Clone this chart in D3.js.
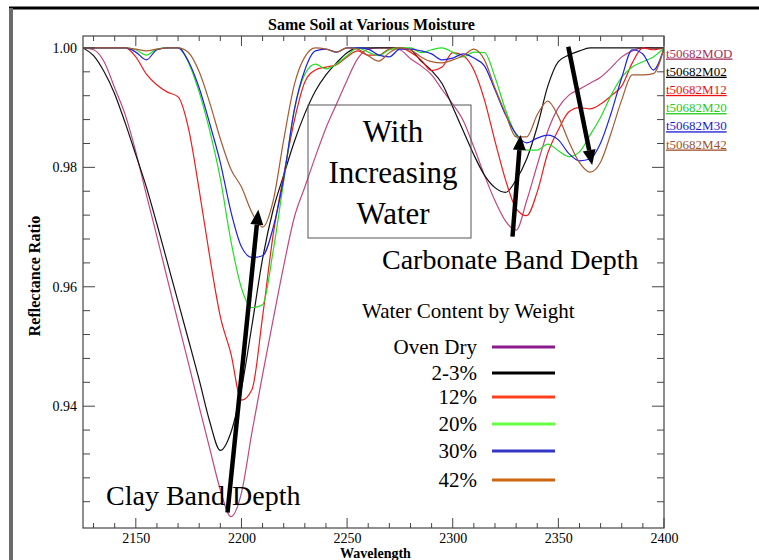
<!DOCTYPE html>
<html><head><meta charset="utf-8">
<script src="https://cdn.jsdelivr.net/npm/d3@7"></script>
<style>
body{margin:0;background:#fff;}
svg{display:block;}
text{font-family:"Liberation Serif","Times New Roman",serif;fill:#000;}
</style>
</head><body><div id="chart"></div>
<script>
// ---------- data ----------
const wavelengths = [2125,2130,2135,2140,2145,2150,2155,2160,2165,2170,
  2175,2180,2185,2190,2195,2200,2205,2210,2215,2220,
  2225,2230,2235,2240,2245,2250,2255,2260,2265,2270,
  2275,2280,2285,2290,2295,2300,2305,2310,2315,2320,
  2325,2330,2335,2340,2345,2350,2355,2360,2365,2370,
  2375,2380,2385,2390,2395,2400];

const seriesNames = ["t50682MOD","t50682M02","t50682M12","t50682M20","t50682M30","t50682M42"];
const legendLabels = ["Oven Dry","2-3%","12%","20%","30%","42%"];

const valuesMOD = [1.0,0.9997,0.9977,0.9933,0.9888,0.9826,0.9754,0.9684,0.9612,0.9541,
  0.9471,0.9399,0.9329,0.9260,0.9215,0.9255,0.9357,0.9453,0.9545,0.9635,
  0.9716,0.9767,0.9818,0.9866,0.9906,0.9946,0.9982,0.9998,1.0,1.0,
  0.9997,0.9982,0.9970,0.9955,0.9930,0.9906,0.9878,0.9834,0.9787,0.9744,
  0.9710,0.9695,0.9744,0.9804,0.9861,0.9900,0.9921,0.9931,0.9941,0.9951,
  0.9967,0.9985,0.9995,1.0,1.0,1.0];

const valuesM02 = [1.0,0.9987,0.9960,0.9923,0.9874,0.9821,0.9767,0.9705,0.9640,0.9575,
  0.9510,0.9444,0.9374,0.9326,0.9356,0.9429,0.9536,0.9647,0.9729,0.9787,
  0.9843,0.9890,0.9928,0.9955,0.9975,0.9992,1.0,1.0,1.0,1.0,
  1.0,0.9997,0.9978,0.9962,0.9940,0.9901,0.9861,0.9821,0.9787,0.9766,
  0.9758,0.9779,0.9814,0.9868,0.9936,0.9977,0.9988,0.9995,1.0,1.0,
  1.0,1.0,1.0,1.0,1.0,1.0];

const valuesM12 = [1.0,1.0,1.0,1.0,1.0,0.9985,0.9956,0.9938,0.9926,0.9918,
  0.9864,0.9762,0.9650,0.9550,0.9488,0.9410,0.9428,0.9550,0.9687,0.9787,
  0.9878,0.9943,0.9963,0.9968,0.9972,0.9985,0.9995,0.9988,0.9988,0.9998,
  1.0,0.9993,0.9980,0.9962,0.9968,0.9992,0.9987,0.9963,0.9913,0.9844,
  0.9779,0.9731,0.9719,0.9759,0.9824,0.9863,0.9893,0.9900,0.9898,0.9906,
  0.9920,0.9936,0.9975,1.0,0.9997,1.0];

const valuesM20 = [1.0,1.0,1.0,1.0,1.0,0.9997,0.9988,0.9998,1.0,1.0,
  0.9975,0.9926,0.9861,0.9781,0.9677,0.9598,0.9565,0.9570,0.9660,0.9777,
  0.9896,0.9956,0.9973,0.9965,0.9973,0.9987,1.0,0.9993,0.9987,0.9997,
  1.0,1.0,0.9992,0.9997,1.0,0.9993,0.9985,0.9993,0.9992,0.9951,
  0.9896,0.9854,0.9829,0.9829,0.9839,0.9828,0.9818,0.9826,0.9854,0.9884,
  0.9921,0.9951,0.9968,0.9977,0.9985,1.0];

const valuesM30 = [1.0,1.0,1.0,1.0,1.0,0.9993,0.9980,0.9997,1.0,1.0,
  0.9977,0.9933,0.9873,0.9808,0.9726,0.9667,0.9649,0.9652,0.9699,0.9782,
  0.9896,0.9963,0.9995,0.9998,0.9993,1.0,1.0,0.9998,0.9988,0.9985,
  0.9998,0.9998,0.9995,0.9990,0.9980,0.9983,0.9990,0.9983,0.9970,0.9930,
  0.9888,0.9856,0.9841,0.9849,0.9854,0.9846,0.9823,0.9811,0.9814,0.9841,
  0.9891,0.9950,0.9997,0.9990,0.9963,1.0];

const valuesM42 = [1.0,1.0,1.0,1.0,1.0,0.9998,0.9995,0.9998,1.0,1.0,
  0.9992,0.9960,0.9908,0.9848,0.9797,0.9767,0.9724,0.9700,0.9744,0.9846,
  0.9938,0.9985,1.0,0.9998,0.9993,1.0,0.9998,0.9987,0.9978,0.9992,
  1.0,0.9997,0.9985,0.9977,0.9975,0.9980,0.9987,0.9998,0.9980,0.9933,
  0.9890,0.9851,0.9851,0.9888,0.9911,0.9885,0.9843,0.9808,0.9792,0.9809,
  0.9858,0.9913,0.9955,0.9955,0.9957,1.0];

const seriesValues = [valuesMOD, valuesM02, valuesM12, valuesM20, valuesM30, valuesM42];

const xMajorTicks = [2150,2200,2250,2300,2350,2400];
const xMinorTicks = [2130,2140,2160,2170,2180,2190,2210,2220,2230,2240,2260,2270,2280,2290,2310,2320,2330,2340,2360,2370,2380,2390];
const yMajorTicks = [0.94,0.96,0.98,1.00];
const yMinorTicks = [0.924,0.928,0.932,0.936,0.944,0.948,0.952,0.956,0.964,0.968,0.972,0.976,0.984,0.988,0.992,0.996];

// annotation arrows (data units)
const arrowStarts = [[2193.4,0.9222],[2328.3,0.9684],[2354.7,1.0002]];
const arrowEnds   = [[2208.0,0.9729],[2332.1,0.9854],[2366.0,0.9804]];

// ---------- styles ----------
const curveColors  = ["#c2477f","#111111","#ee1c1c","#22e022","#2020e0","#a85a30"];
const labelColors  = ["#a8305f","#000000","#ee1111","#22cc22","#1a1ad0","#a0522d"];
const legendColors = ["#8b1a8b","#000000","#ff4020","#66ff44","#3535c8","#cc6611"];
const SERIF = '"Liberation Serif","Times New Roman",serif';

const W = 759, H = 560;
const L = 83, R = 664, T = 36, B = 528;

const svg = d3.select("#chart").append("svg").attr("width",W).attr("height",H);
svg.append("rect").attr("width",W).attr("height",H).attr("fill","#fff");

// page frame
svg.append("rect").attr("x",9).attr("y",6.5).attr("width",W-9).attr("height",3).attr("fill","#000");
svg.append("rect").attr("x",9).attr("y",8).attr("width",4).attr("height",H-8).attr("fill","#6a6a6a");

const x = d3.scaleLinear().domain([2125,2400]).range([L,R]);
const y = d3.scaleLinear().domain([0.9196,1.002]).range([B,T]);

// title
svg.append("text").attr("x",(L+R)/2-2).attr("y",30).attr("text-anchor","middle")
  .attr("font-size",16).attr("font-weight","bold").text("Same Soil at Various Moisture");

// clip
svg.append("clipPath").attr("id","clip").append("rect")
  .attr("x",L).attr("y",T).attr("width",R-L).attr("height",B-T);

// curves
const line = d3.line().x((d,i)=>x(wavelengths[i])).y(d=>y(d)).curve(d3.curveMonotoneX);
const gCurves = svg.append("g").attr("clip-path","url(#clip)");
seriesValues.forEach((vals,k)=>{
  gCurves.append("path").attr("d",line(vals)).attr("fill","none")
    .attr("stroke",curveColors[k]).attr("stroke-width",1.2);
});

// axes frame
const axisColor = "#444";
const gAx = svg.append("g");
gAx.append("rect").attr("x",L).attr("y",T).attr("width",R-L).attr("height",B-T)
  .attr("fill","none").attr("stroke",axisColor).attr("stroke-width",1.2);

// x ticks (bottom & top, inward)
const xBottom = d3.axisBottom(x).tickValues(xMajorTicks).tickSize(0).tickPadding(5).tickFormat(d3.format("d"));
const gxb = svg.append("g").attr("transform",`translate(0,${B})`).call(xBottom);
gxb.select(".domain").remove();
gxb.attr("font-family",null);
gxb.selectAll("text").attr("font-size",14).style("font-family",SERIF).style("fill","#000").attr("dy","0.72em");

xMajorTicks.forEach(v=>{
  gAx.append("line").attr("x1",x(v)).attr("x2",x(v)).attr("y1",B).attr("y2",B-10).attr("stroke",axisColor);
  gAx.append("line").attr("x1",x(v)).attr("x2",x(v)).attr("y1",T).attr("y2",T+10).attr("stroke",axisColor);
});
xMinorTicks.forEach(v=>{
  gAx.append("line").attr("x1",x(v)).attr("x2",x(v)).attr("y1",B).attr("y2",B-5).attr("stroke",axisColor);
  gAx.append("line").attr("x1",x(v)).attr("x2",x(v)).attr("y1",T).attr("y2",T+5).attr("stroke",axisColor);
});

// y ticks (left labels, inward ticks both sides)
const yLeft = d3.axisLeft(y).tickValues(yMajorTicks).tickSize(0).tickPadding(6).tickFormat(d3.format(".2f"));
const gyl = svg.append("g").attr("transform",`translate(${L},0)`).call(yLeft);
gyl.select(".domain").remove();
gyl.attr("font-family",null);
gyl.selectAll("text").attr("font-size",14).style("font-family",SERIF).style("fill","#000");

yMajorTicks.forEach(v=>{
  gAx.append("line").attr("x1",L).attr("x2",L+12).attr("y1",y(v)).attr("y2",y(v)).attr("stroke",axisColor);
  gAx.append("line").attr("x1",R).attr("x2",R-12).attr("y1",y(v)).attr("y2",y(v)).attr("stroke",axisColor);
});
yMinorTicks.forEach(v=>{
  gAx.append("line").attr("x1",L).attr("x2",L+7).attr("y1",y(v)).attr("y2",y(v)).attr("stroke",axisColor);
  gAx.append("line").attr("x1",R).attr("x2",R-7).attr("y1",y(v)).attr("y2",y(v)).attr("stroke",axisColor);
});

// axis titles
svg.append("text").attr("x",(L+R)/2+2).attr("y",558).attr("text-anchor","middle")
  .attr("font-size",14).attr("font-weight","bold").text("Wavelength");
svg.append("text").attr("transform",`translate(40,${(T+B)/2-6}) rotate(-90)`).attr("text-anchor","middle")
  .attr("font-size",16).attr("font-weight","bold").text("Reflectance Ratio");

// right series labels
seriesNames.forEach((n,k)=>{
  svg.append("text").attr("x",R+2).attr("y",57.5+k*18.2).attr("font-size",13)
    .style("fill",labelColors[k])
    .attr("text-decoration","underline").text(n);
});

// annotation box
svg.append("rect").attr("x",308).attr("y",105).attr("width",163).attr("height",133)
  .attr("fill","none").attr("stroke","#555").attr("stroke-width",1);
["With","Increasing","Water"].forEach((t,i)=>{
  svg.append("text").attr("x",393).attr("y",142+i*41).attr("text-anchor","middle")
    .attr("font-size",31).text(t);
});
svg.append("text").attr("x",382).attr("y",269).attr("font-size",28).text("Carbonate Band Depth");
svg.append("text").attr("x",106).attr("y",505).attr("font-size",28).text("Clay Band Depth");

// arrows
arrowStarts.forEach((s,i)=>{
  const e = arrowEnds[i];
  const x1 = x(s[0]), y1 = y(s[1]), x2 = x(e[0]), y2 = y(e[1]);
  const ang = Math.atan2(y2-y1, x2-x1);
  const hl = 15, hw = 6.5;
  const bx = x2 - hl*Math.cos(ang), by = y2 - hl*Math.sin(ang);
  svg.append("line").attr("x1",x1).attr("y1",y1).attr("x2",bx).attr("y2",by)
    .attr("stroke","#000").attr("stroke-width",4.5);
  const px = -Math.sin(ang), py = Math.cos(ang);
  svg.append("path").attr("d",`M${x2},${y2}L${bx+hw*px},${by+hw*py}L${bx-hw*px},${by-hw*py}Z`).attr("fill","#000");
});

// water content legend
svg.append("text").attr("x",362).attr("y",318).attr("font-size",21).text("Water Content by Weight");
const legendY = [347,373,397,424,451,480];
legendLabels.forEach((t,k)=>{
  svg.append("text").attr("x",477).attr("y",legendY[k]+7).attr("text-anchor","end").attr("font-size",21).text(t);
  svg.append("line").attr("x1",492).attr("x2",555).attr("y1",legendY[k]).attr("y2",legendY[k])
    .attr("stroke",legendColors[k]).attr("stroke-width",3);
});
</script>
</body></html>
